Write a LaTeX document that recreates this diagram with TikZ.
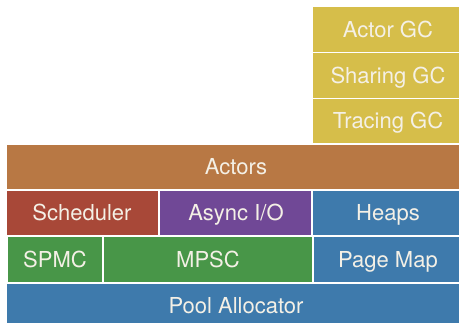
\documentclass[tikz,border=0pt]{standalone}
\usepackage{fontspec}
\setmainfont{TeX Gyre Heros}
\definecolor{gcyellow}{RGB}{214,190,74}
\definecolor{actorange}{RGB}{184,120,68}
\definecolor{schedred}{RGB}{168,72,56}
\definecolor{iopurple}{RGB}{112,72,150}
\definecolor{memblue}{RGB}{62,122,172}
\definecolor{queuegreen}{RGB}{72,150,72}
\definecolor{labeltext}{RGB}{244,240,230}
\tikzset{
  layer/.style={fill=#1, draw=none},
  layertext/.style={text=labeltext, font=\fontsize{22}{24}\selectfont, inner sep=0pt, anchor=base},
}
\begin{document}
\begin{tikzpicture}[x=1pt, y=-1pt]
\useasboundingbox (0,0) rectangle (459,323);
\clip (0,0) rectangle (459,323);
\fill[white] (0,0) rectangle (459,323);
% garbage collector stack
\fill[layer=gcyellow] (313,7) rectangle (460,52);
\fill[layer=gcyellow] (313,53) rectangle (460,98);
\fill[layer=gcyellow] (313,99) rectangle (460,143);
\node[layertext] (agc) at (388,37.5) {Actor GC};
\node[layertext] (sgc) at (388,83.5) {Sharing GC};
\node[layertext] (tgc) at (388,129) {Tracing GC};
% actors
\fill[layer=actorange] (7,145) rectangle (460,189);
\node[layertext] (act) at (236,175) {Actors};
% runtime services
\fill[layer=schedred] (7,191) rectangle (158,235);
\fill[layer=iopurple] (160,191) rectangle (311,235);
\fill[layer=memblue] (313,191) rectangle (460,235);
\node[layertext] (sch) at (82,221) {Scheduler};
\node[layertext] (aio) at (236,221) {Async I/O};
\node[layertext] (hp) at (388,221) {Heaps};
% queues and page map
\fill[layer=queuegreen] (8,237) rectangle (102,282);
\fill[layer=queuegreen] (104,237) rectangle (312,282);
\fill[layer=memblue] (314,237) rectangle (460,282);
\node[layertext] (spmc) at (55,267.5) {SPMC};
\node[layertext] (mpsc) at (208,267.5) {MPSC};
\node[layertext] (pm) at (388,267.5) {Page Map};
% allocator
\fill[layer=memblue] (7,284) rectangle (460,330);
\node[layertext] (pool) at (236,314) {Pool Allocator};
\end{tikzpicture}
\end{document}
